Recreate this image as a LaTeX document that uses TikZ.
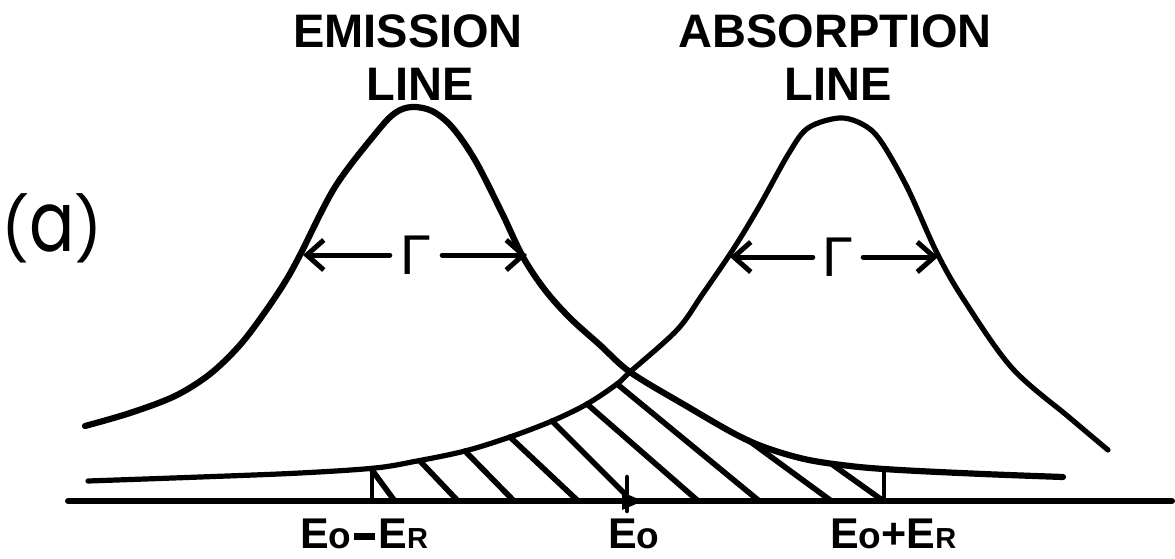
\documentclass[tikz,border=0pt]{standalone}
\usepackage{fontspec}
\usepackage{graphicx}
\setmainfont{Liberation Sans}
\newfontfamily\popfont{Poppins}
\usetikzlibrary{arrows.meta}
\newcommand{\capE}{{\fontsize{43}{43}\selectfont E}}
\newcommand{\subo}{{\fontsize{37}{37}\selectfont o}}
\newcommand{\subR}{{\fontsize{29}{29}\selectfont R}}
\newcommand{\lbldash}{\hspace{3pt}\rule[8pt]{21pt}{7pt}\hspace{3pt}}
\begin{document}
\begin{tikzpicture}[x=1pt,y=-1pt,line cap=round,line join=round,
  emcurve/.style={line width=6.2pt},
  abcurve/.style={line width=5.2pt},
  axisline/.style={line width=6pt},
  hatchline/.style={line width=5.6pt},
  thinline/.style={line width=3.6pt},
  gamarrow/.style={line width=5pt,-{Straight Barb[length=17pt,width=30pt]}},
  title/.style={font=\fontsize{47}{50}\selectfont\bfseries,inner sep=0pt,anchor=base},
  gam/.style={font=\fontsize{56}{56}\selectfont,inner sep=0pt,minimum height=40pt},
  elabel/.style={font=\bfseries,inner sep=0pt,anchor=base}]
\useasboundingbox (0,0) rectangle (1175,558);

% titles
\node[title] (emtitle) at (408,47) {EMISSION};
\node[title] (emline) at (420,100) {LINE};
\node[title] (abtitle) at (835,47) {ABSORPTION};
\node[title] (abline) at (838,100) {LINE};

% panel label
\node[inner sep=0pt,anchor=center] (panel) at (52,228)
  {\popfont{\fontsize{62}{62}\selectfont(}\scalebox{0.8}[1]{\fontsize{84}{84}\selectfont a}{\fontsize{62}{62}\selectfont)}};

% baseline
\coordinate (axL) at (68,501);
\coordinate (axR) at (1172,501);
\draw[axisline] (axL) -- (axR);

% emission line
\draw[emcurve] plot[smooth,tension=0.55] coordinates {
 (85,426) (130,413) (175,396) (210,374) (240,345) (265,312) (285,282)
 (300,255) (335,187) (376,133) (395,113) (412,107) (432,111) (452,127)
 (475,160) (502,213) (523,257) (545,290) (570,318) (600,345) (630,372)
 (683,404) (747,440) (800,458) (850,466) (900,470) (983,474) (1063,477)};

% absorption line
\draw[abcurve] plot[smooth,tension=0.55] coordinates {
 (88,481) (200,477) (300,473) (375,468) (417,461) (465,451) (510,437)
 (552,421) (587,404) (617,384) (630,372) (677,330) (702,295) (734,248)
 (760,205) (789,153) (808,128) (839,118) (862,124) (880,140) (907,187)
 (937,253) (964,300) (1012,368) (1070,418) (1108,450)};

% hatch region
\draw[thinline] (372,501) -- (372,470);
\draw[thinline] (884,501) -- (884,469);
\draw[hatchline] (372,470) -- (394,500);
\draw[hatchline] (420,461) -- (457,500);
\draw[hatchline] (465,451) -- (513,500);
\draw[hatchline] (510,437) -- (577,500);
\draw[hatchline] (552,421) -- (626,495);
\draw[hatchline] (587,404) -- (697,500);
\draw[hatchline] (617,384) -- (758,500);
\draw[hatchline] (748,440) -- (830,500);
\draw[hatchline] (833,465) -- (882,500);

% E0 marker
\coordinate (e0) at (627,501);
\draw[line width=4.5pt] (627,477) -- (627,511);
\fill (622,492) -- (643,501) -- (622,510) -- cycle;

% widths
\node[gam,minimum width=52pt] (gam1) at (416,255) {Γ};
\coordinate (g1l) at (303,255);
\coordinate (g1r) at (527,255);
\draw[gamarrow] (gam1.west) -- (g1l);
\draw[gamarrow] (gam1.east) -- (g1r);

\node[gam,minimum width=50pt] (gam2) at (838,257) {Γ};
\coordinate (g2l) at (730,257);
\coordinate (g2r) at (938,257);
\draw[gamarrow] (gam2.west) -- (g2l);
\draw[gamarrow] (gam2.east) -- (g2r);

% energy labels
\node[elabel,anchor=base west] (lab1) at (300,548) {\capE\subo\lbldash\capE\subR};
\node[elabel,anchor=base west] (lab2) at (608,548) {\capE\subo};
\node[elabel,anchor=base west] (lab3) at (830,548) {\capE\subo{\fontsize{43}{43}\selectfont+}\capE\subR};
\end{tikzpicture}
\end{document}
